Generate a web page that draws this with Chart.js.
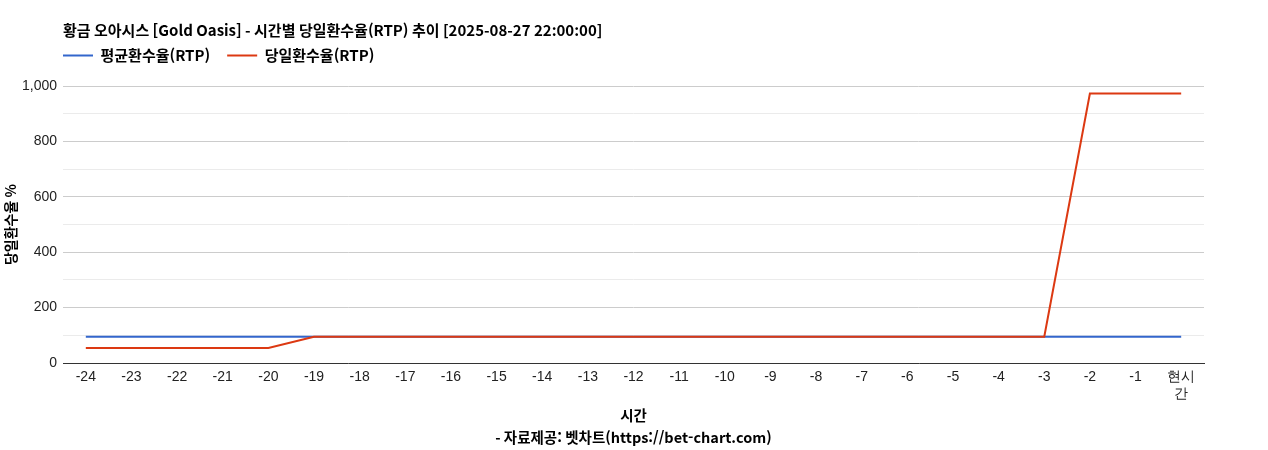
<!DOCTYPE html>
<html lang="ko">
<head>
<meta charset="utf-8">
<title>황금 오아시스 RTP</title>
<script src="https://cdn.jsdelivr.net/npm/chart.js@4.4.1/dist/chart.umd.min.js"></script>
<style>
  html, body { margin: 0; padding: 0; background: #fff; }
  #wrap { position: relative; width: 1268px; height: 450px; }
</style>
</head>
<body>
<div id="wrap"><canvas id="rtp-chart"></canvas></div>
<script>
// hourly categories, last one is "현시간" (wrapped in two lines like the original)
const hours = ['-24', '-23', '-22', '-21', '-20', '-19', '-18', '-17', '-16', '-15', '-14', '-13',
               '-12', '-11', '-10', '-9', '-8', '-7', '-6', '-5', '-4', '-3', '-2', '-1', ['현시', '간']];

const avgRtp = [95, 95, 95, 95, 95, 95, 95, 95, 95, 95, 95, 95,
                95, 95, 95, 95, 95, 95, 95, 95, 95, 95, 95, 95, 95];

const dailyRtp = [54, 54, 54, 54, 54, 95, 95, 95, 95, 95, 95, 95,
                  95, 95, 95, 95, 95, 95, 95, 95, 95, 95, 973, 973, 973];

const titleText = '황금 오아시스 [Gold Oasis] - 시간별 당일환수율(RTP) 추이 [2025-08-27 22:00:00]';
const xTitle = ['시간', '- 자료제공: 벳차트(https://bet-chart.com)'];
const yTitle = '당일환수율 %';

(function () {
  'use strict';

  const TICK_FONT = "Arial, 'Liberation Sans', sans-serif";
  const KR_FONT = "'Noto Sans CJK KR', sans-serif";
  const BLUE = '#3366cc';
  const RED = '#dc3912';
  const LEGEND_PAD = 17;

  // legend: extra room under it, and items pulled back to the plot's left edge
  const legendTweak = {
    id: 'legendTweak',
    beforeInit(chart) {
      const lg = chart.legend;
      const fit = lg.fit;
      lg.fit = function () {
        fit.call(this);
        this.height += 13;
      };
      const draw = lg.draw;
      lg.draw = function () {
        const c = this.ctx;
        c.save();
        c.translate(-LEGEND_PAD, 0);
        draw.call(this);
        c.restore();
      };
    }
  };

  const ctx = document.getElementById('rtp-chart').getContext('2d');

  new Chart(ctx, {
    type: 'line',
    data: {
      labels: hours,
      datasets: [
        {
          label: '평균환수율(RTP)',
          data: avgRtp,
          borderColor: BLUE,
          backgroundColor: BLUE,
          borderWidth: 2,
          pointRadius: 0,
          tension: 0,
          order: 1
        },
        {
          label: '당일환수율(RTP)',
          data: dailyRtp,
          borderColor: RED,
          backgroundColor: RED,
          borderWidth: 2,
          pointRadius: 0,
          tension: 0,
          order: 0
        }
      ]
    },
    plugins: [legendTweak],
    options: {
      responsive: true,
      maintainAspectRatio: false,
      animation: false,
      layout: { padding: { left: 0, right: 64, top: 0, bottom: 0 } },
      plugins: {
        title: {
          display: true,
          text: titleText,
          align: 'start',
          fullSize: false,
          color: '#000',
          font: { family: KR_FONT, size: 15, weight: 'bold', lineHeight: '2px' },
          padding: { top: 29, bottom: 0 }
        },
        legend: {
          display: true,
          position: 'top',
          align: 'start',
          fullSize: false,
          labels: {
            usePointStyle: true,
            pointStyle: 'line',
            pointStyleWidth: 30,
            padding: LEGEND_PAD,
            color: '#000',
            font: { family: KR_FONT, size: 15, weight: 'bold' },
            sort: (a, b) => a.datasetIndex - b.datasetIndex
          }
        },
        tooltip: { enabled: false }
      },
      scales: {
        x: {
          offset: true,
          grid: { display: false, drawTicks: false },
          border: { display: true, color: '#333', width: 1 },
          ticks: {
            color: '#222',
            padding: 6,
            maxRotation: 0,
            autoSkip: false,
            font: { family: TICK_FONT, size: 14 }
          },
          title: {
            display: true,
            text: xTitle,
            color: '#000',
            font: { family: KR_FONT, size: 14.5, weight: 'bold', lineHeight: '22px' },
            padding: { top: 0, bottom: 2 }
          },
          afterFit: function (scale) { scale.height = 87; }
        },
        y: {
          min: 0,
          max: 1000,
          border: { display: false },
          grid: {
            drawTicks: false,
            color: function (c) {
              return (c.tick && c.tick.value % 200 === 0) ? '#cccccc' : '#ebebeb';
            }
          },
          ticks: {
            stepSize: 100,
            padding: 6,
            color: '#222',
            font: { family: TICK_FONT, size: 14 },
            callback: function (v) {
              if (v % 200 !== 0) return '';
              return v.toLocaleString('en-US');
            }
          },
          title: {
            display: true,
            text: yTitle,
            color: '#000',
            font: { family: KR_FONT, size: 14, weight: 'bold' },
            padding: { top: 2, bottom: 0 }
          },
          afterFit: function (scale) { scale.width = 63; }
        }
      }
    }
  });
})();
</script>
</body>
</html>
